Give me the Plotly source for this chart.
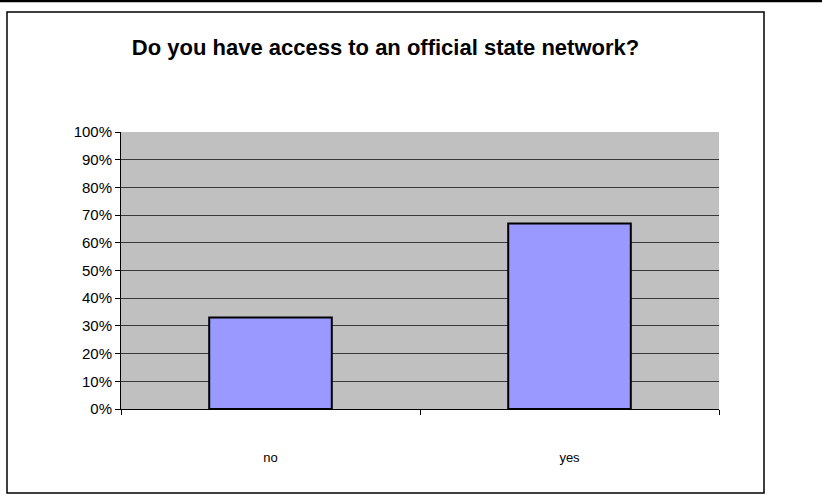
import plotly.graph_objects as go

categories = ["no", "yes"]
shares = [33, 67]
y_ticks = list(range(0, 101, 10))
y_tick_labels = [f"{v}%" for v in y_ticks]

title_text = "Do you have access to an official state network?"

W, H = 822, 500
L, R, T, B = 121, 103, 132, 91
pw, ph = W - L - R, H - T - B


def px_x(x):
    return (x - L) / pw


def px_y(y):
    return (H - B - y) / ph


fig = go.Figure(
    go.Bar(
        x=categories,
        y=shares,
        marker=dict(color="#9999FF", line=dict(color="black", width=2)),
        hoverinfo="skip",
    )
)

fig.update_layout(
    width=W,
    height=H,
    margin=dict(l=L, r=R, t=T, b=B),
    paper_bgcolor="white",
    plot_bgcolor="#C0C0C0",
    bargap=0.59,
    showlegend=False,
    font=dict(family="Liberation Sans, Arial", color="black"),
    title=dict(
        text=f"<b>{title_text}</b>",
        x=(7 + 764) / 2 / W,
        xanchor="center",
        y=1 - 47 / H,
        yanchor="middle",
        yref="container",
        font=dict(size=22, family="Liberation Sans, Arial", color="black"),
    ),
    shapes=[
        # outer chart frame
        dict(type="rect", xref="paper", yref="paper",
             x0=px_x(7), x1=px_x(764), y0=px_y(493), y1=px_y(12),
             line=dict(color="black", width=1.5), fillcolor="rgba(0,0,0,0)",
             layer="below"),
        # rule across the top of the page
        dict(type="line", xref="paper", yref="paper",
             x0=px_x(0), x1=px_x(W), y0=px_y(1), y1=px_y(1),
             line=dict(color="black", width=2.5)),
    ],
)

fig.update_yaxes(
    range=[0, 100],
    tickvals=y_ticks,
    ticktext=y_tick_labels,
    ticks="outside",
    ticklen=5,
    tickcolor="black",
    tickfont=dict(size=15),
    showgrid=True,
    gridcolor="#383838",
    gridwidth=1,
    showline=True,
    linecolor="black",
    linewidth=1,
    zeroline=False,
    fixedrange=True,
)

fig.update_xaxes(
    type="category",
    tickson="boundaries",
    ticks="outside",
    ticklen=5,
    tickcolor="black",
    tickfont=dict(size=13),
    ticklabelstandoff=36,
    showline=True,
    linecolor="black",
    linewidth=1,
    showgrid=False,
    fixedrange=True,
)

fig.write_html("out.html", config={"displayModeBar": False})
